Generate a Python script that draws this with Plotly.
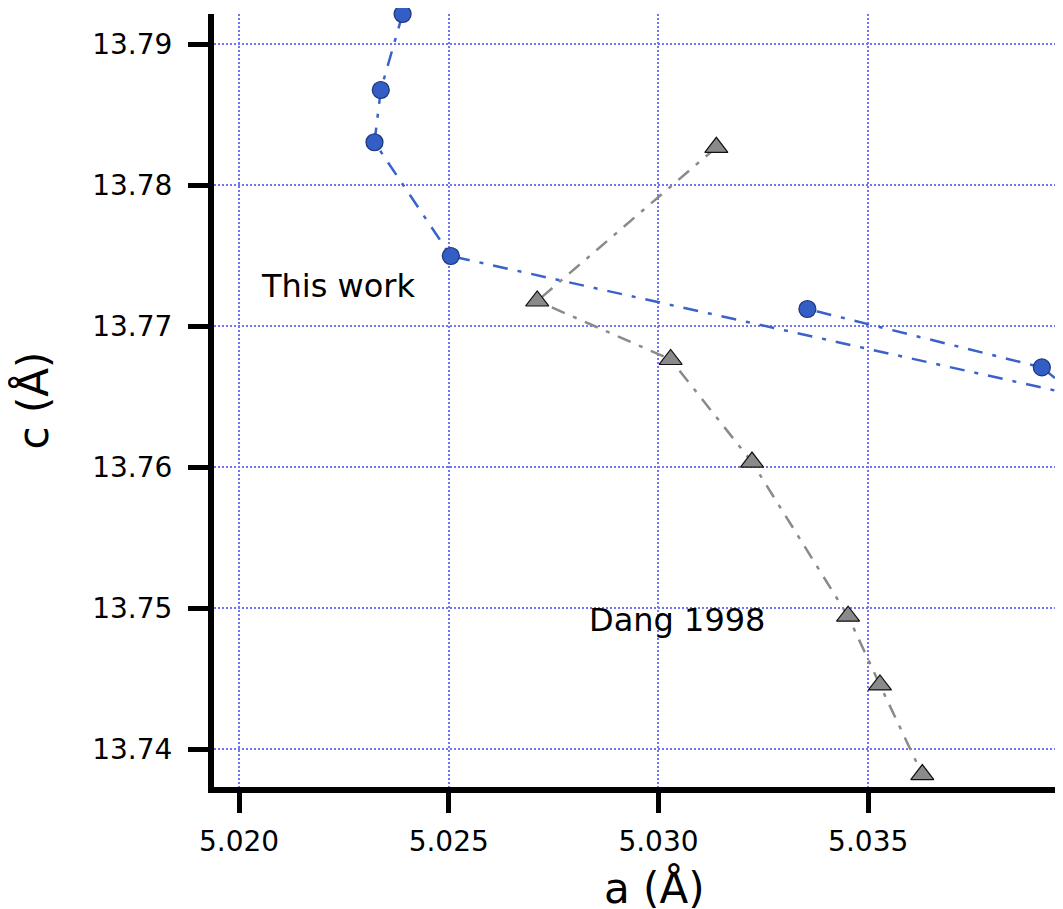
import plotly.graph_objects as go

# Data
this_work_a = [5.02390, 5.02338, 5.02323, 5.02505, 5.03995, 5.03914, 5.03355]
this_work_c = [13.79216, 13.78677, 13.78306, 13.77499, 13.76512, 13.76709, 13.77123]

dang_a = [5.03138, 5.02711, 5.03029, 5.03223, 5.03452, 5.03528, 5.03629]
dang_c = [13.78270, 13.77180, 13.76765, 13.76037, 13.74944, 13.74456, 13.73820]

x_ticks = [5.020, 5.025, 5.030, 5.035]
y_ticks = [13.74, 13.75, 13.76, 13.77, 13.78, 13.79]

label_this_work = ("This work", 5.02047, 13.77286)
label_dang = ("Dang 1998", 5.02829, 13.74916)

FONT = "DejaVu Sans"
grid_color = "#7474f0"

fig = go.Figure()

fig.add_trace(go.Scatter(
    x=dang_a, y=dang_c, mode="lines+markers",
    line=dict(color="#8a8a8a", width=2.5, dash="14px,9px,4px,9px"),
    marker=dict(symbol="triangle-up", size=20, color="#8a8a8a",
                line=dict(color="#111111", width=1.2)),
    cliponaxis=False, showlegend=False,
))

fig.add_trace(go.Scatter(
    x=this_work_a, y=this_work_c, mode="lines+markers",
    line=dict(color="#3a62c9", width=2.5, dash="15px,10px,4px,10px"),
    marker=dict(symbol="circle", size=17, color="#335ec6",
                line=dict(color="#1d3578", width=1.2)),
    cliponaxis=False, showlegend=False,
))

for text, xa, yc in (label_this_work, label_dang):
    fig.add_annotation(x=xa, y=yc, text=text, showarrow=False,
                       xanchor="left", yanchor="middle",
                       font=dict(family=FONT, size=32, color="black"))

# x-axis title (placed off-centre, as in the reference whose plot is cut at the right)
fig.add_annotation(x=0.5194, y=-0.1307, xref="paper", yref="paper",
                   text="a (Å)", showarrow=False, xanchor="center", yanchor="middle",
                   font=dict(family=FONT, size=42, color="black"))

fig.update_layout(
    width=1055, height=901,
    margin=dict(l=206, r=0, t=6, b=122),
    paper_bgcolor="white", plot_bgcolor="white",
    font=dict(family=FONT, color="black"),
)

fig.update_xaxes(
    range=[5.019404, 5.039644],
    tickvals=x_ticks, tickformat=".3f",
    ticks="outside", ticklen=20, tickwidth=5, tickcolor="black",
    showline=True, linewidth=6, linecolor="black",
    showgrid=True, gridcolor=grid_color, gridwidth=1.5, griddash="2px,2px",
    zeroline=False,
    ticklabelstandoff=4,
    tickfont=dict(family=FONT, size=28, color="black"),
)
fig.update_yaxes(
    range=[13.73732, 13.79216],
    tickvals=y_ticks, tickformat=".2f",
    ticks="outside", ticklen=20, tickwidth=5, tickcolor="black",
    showline=True, linewidth=6, linecolor="black",
    showgrid=True, gridcolor=grid_color, gridwidth=1.5, griddash="2px,2px",
    zeroline=False,
    ticklabelstandoff=10,
    tickfont=dict(family=FONT, size=28, color="black"),
    title=dict(text="c (Å)", font=dict(family=FONT, size=42, color="black"), standoff=34),
)

fig.write_html("out.html")
